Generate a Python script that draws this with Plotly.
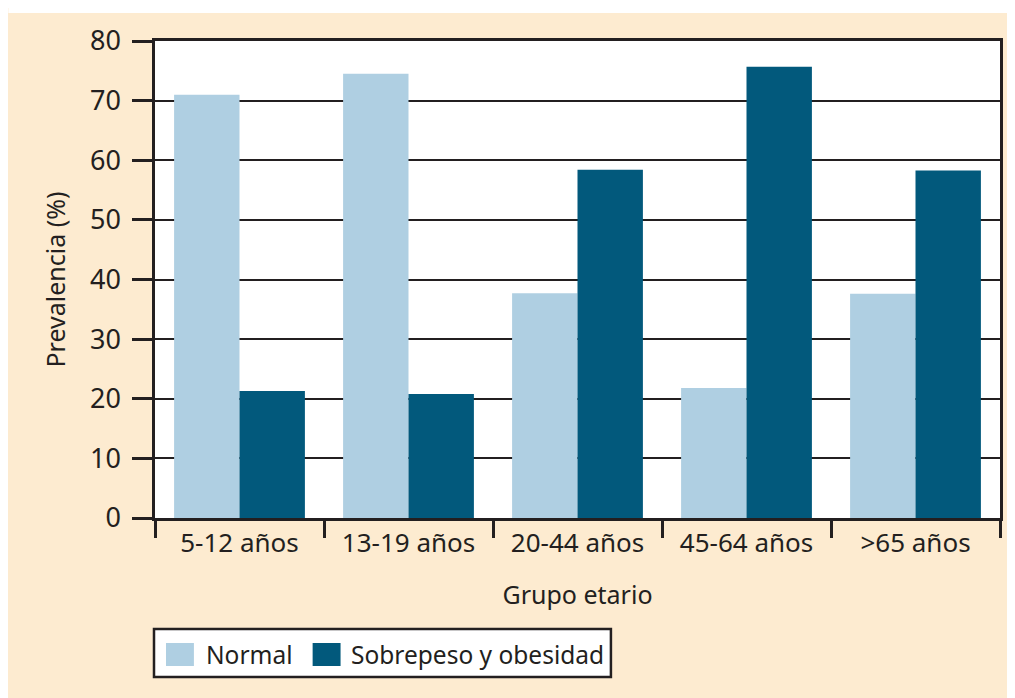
import plotly.graph_objects as go

groups = ["5-12 años", "13-19 años", "20-44 años", "45-64 años", ">65 años"]
normal = [71.0, 74.5, 37.7, 21.8, 37.6]
sobrepeso = [21.3, 20.8, 58.4, 75.7, 58.3]
series_names = ["Normal", "Sobrepeso y obesidad"]
y_ticks = [0, 10, 20, 30, 40, 50, 60, 70, 80]

LIGHT = "#AFCFE2"
DARK = "#02597C"
INK = "#231F20"
BEIGE = "#FDEBD0"
FONT = "Noto Sans, DejaVu Sans, sans-serif"


def font(size):
    return dict(family=FONT, color=INK, size=size)


# the page body adds 8px white at top/left, so the figure is 8px smaller
W, H = 1007, 690
L, R, T, B = 147, 13, 33, 180


def px_x(x):
    return (x - L) / (W - L - R)


def px_y(y):
    return (H - B - y) / (H - T - B)


fig = go.Figure()
fig.add_trace(go.Bar(x=groups, y=normal, name=series_names[0],
                     marker=dict(color=LIGHT, line=dict(width=0)), showlegend=False))
fig.add_trace(go.Bar(x=groups, y=sobrepeso, name=series_names[1],
                     marker=dict(color=DARK, line=dict(width=0)), showlegend=False))

shapes = [
    # thin white strip at the top
    dict(type="rect", xref="paper", yref="paper", x0=px_x(0), x1=px_x(W), y0=px_y(5), y1=px_y(0),
         fillcolor="white", line=dict(width=0), layer="above"),
    # legend box
    dict(type="rect", xref="paper", yref="paper", x0=px_x(146), x1=px_x(604), y0=px_y(669), y1=px_y(621),
         fillcolor="white", line=dict(color=INK, width=2.5)),
    dict(type="rect", xref="paper", yref="paper", x0=px_x(158), x1=px_x(186), y0=px_y(658), y1=px_y(635),
         fillcolor=LIGHT, line=dict(width=0)),
    dict(type="rect", xref="paper", yref="paper", x0=px_x(305), x1=px_x(333), y0=px_y(658), y1=px_y(635),
         fillcolor=DARK, line=dict(width=0)),
]
annotations = [
    dict(text=series_names[0], xref="paper", yref="paper", x=px_x(196), y=px_y(646),
         xanchor="left", yanchor="middle", showarrow=False, font=font(24.5)),
    dict(text=series_names[1], xref="paper", yref="paper", x=px_x(341), y=px_y(646),
         xanchor="left", yanchor="middle", showarrow=False, font=font(24.5)),
]

fig.update_layout(
    width=W, height=H,
    margin=dict(l=L, r=R, t=T, b=B, pad=0),
    paper_bgcolor=BEIGE,
    plot_bgcolor="white",
    font=font(26),
    barmode="group",
    bargap=0.226,
    bargroupgap=0,
    shapes=shapes,
    annotations=annotations,
    xaxis=dict(
        showline=True, linecolor=INK, linewidth=2.5, mirror=True,
        ticks="outside", tickson="boundaries", ticklen=17, tickwidth=2.5, tickcolor=INK,
        showgrid=False,
        title=dict(text="Grupo etario", font=font(25), standoff=28),
        tickfont=font(26),
    ),
    yaxis=dict(
        range=[0, 80], tickvals=y_ticks,
        showline=True, linecolor=INK, linewidth=2.5, mirror=True,
        ticks="outside", ticklen=20, tickwidth=2.5, tickcolor=INK,
        showgrid=True, gridcolor=INK, gridwidth=1.5,
        zeroline=False,
        title=dict(text="Prevalencia (%)", font=font(25), standoff=18),
        tickfont=font(27),
        ticklabelstandoff=6,
    ),
)

fig.write_html("out.html")
